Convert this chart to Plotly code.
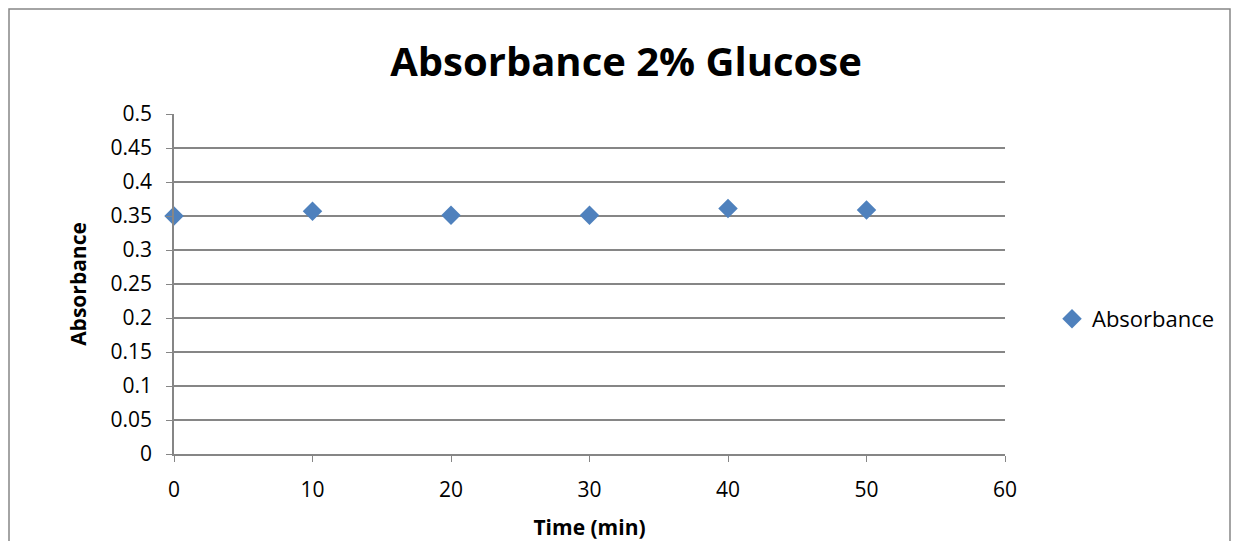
import plotly.graph_objects as go

time_min = [0, 10, 20, 30, 40, 50]
absorbance = [0.350, 0.357, 0.351, 0.351, 0.361, 0.359]
series_name = "Absorbance"
title_text = "Absorbance 2% Glucose"
x_title = "Time (min)"
y_title = "Absorbance"

W, H = 1236, 541
L, R, T, B = 174, 231, 114, 87
pw, ph = W - L - R, H - T - B

def px_x(p):
    return (p - L) / pw

def px_y(p):
    return (H - B - p) / ph

grey = "#868686"
font_family = "Open Sans, Liberation Sans, sans-serif"

fig = go.Figure()
fig.add_trace(go.Scatter(
    x=time_min, y=absorbance, mode="markers", name=series_name,
    marker=dict(symbol="diamond", size=15, color="#4F81BD"),
    cliponaxis=False,
))

fig.update_layout(
    width=W, height=H,
    margin=dict(l=L, r=R, t=T, b=B, autoexpand=False),
    paper_bgcolor="white", plot_bgcolor="white",
    font=dict(family=font_family, size=21, color="black"),
    title=dict(text="<b>" + title_text + "</b>", x=626 / W, xanchor="center",
               y=1 - 62 / H, yanchor="middle",
               font=dict(size=40, family=font_family, color="black")),
    showlegend=True,
    legend=dict(x=px_x(1052), y=px_y(319), xanchor="left", yanchor="middle",
                font=dict(size=22), itemwidth=30, bgcolor="rgba(0,0,0,0)"),
    xaxis=dict(range=[0, 60], dtick=10, showgrid=False, zeroline=False, automargin=False,
               showline=True, linecolor=grey, linewidth=1.5,
               ticks="outside", ticklen=6, tickcolor=grey,
               tickfont=dict(size=21), ticklabelstandoff=10,
               title=dict(text="<b>" + x_title + "</b>", font=dict(size=21), standoff=18)),
    yaxis=dict(range=[0, 0.5], dtick=0.05, showgrid=True, gridcolor=grey, gridwidth=1.5,
               zeroline=False, showline=True, linecolor=grey, linewidth=1.5, automargin=False,
               ticks="outside", ticklen=6, tickcolor=grey,
               tickfont=dict(size=21), tickformat="~g", ticklabelstandoff=10,
               title=dict(text="<b>" + y_title + "</b>", font=dict(size=21), standoff=18)),
    shapes=[dict(type="rect", xref="paper", yref="paper",
                 x0=px_x(9), x1=px_x(1230), y0=px_y(560), y1=px_y(9),
                 line=dict(color=grey, width=1.5), fillcolor="rgba(0,0,0,0)", layer="below")],
)

fig.write_html("out.html")
